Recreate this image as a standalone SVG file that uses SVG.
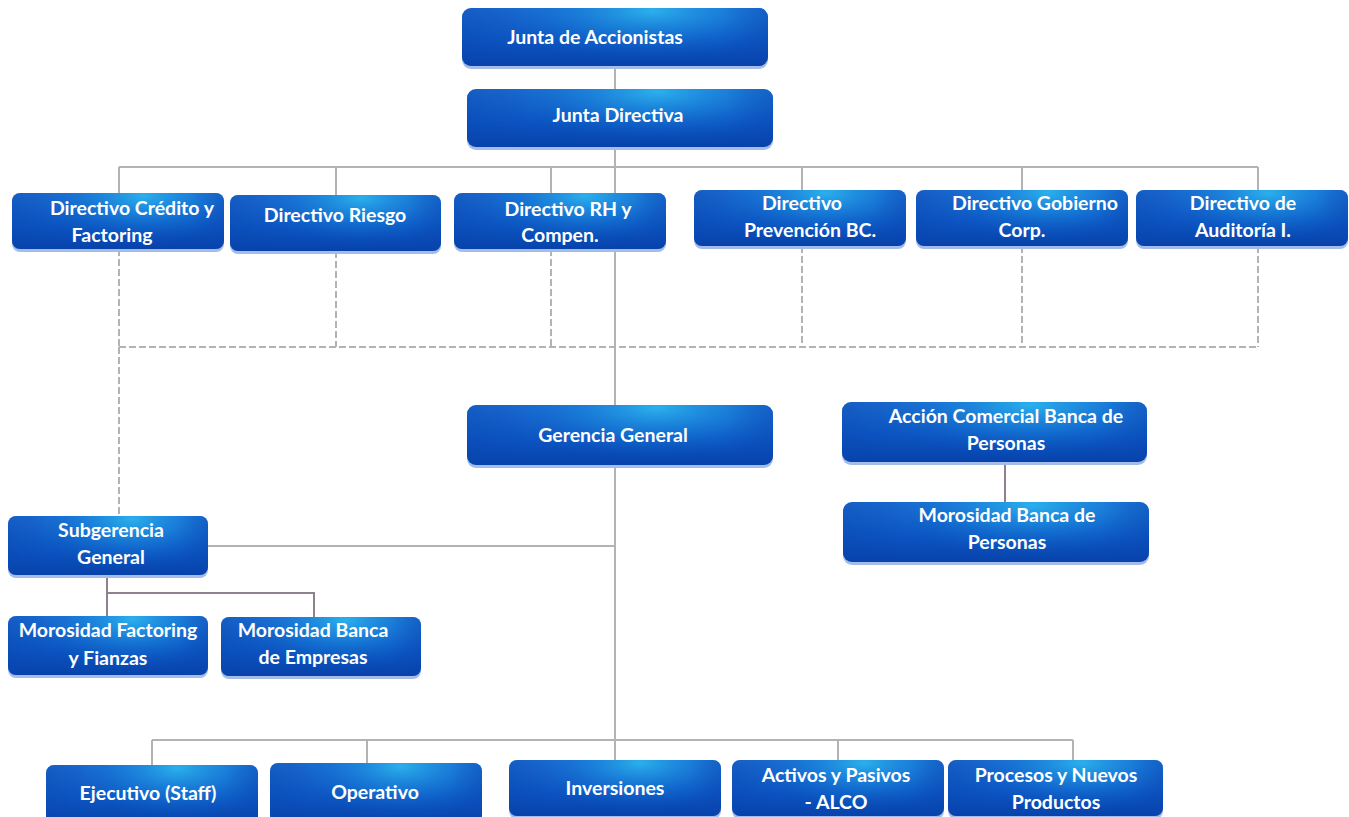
<svg xmlns="http://www.w3.org/2000/svg" width="1349" height="817" viewBox="0 0 1349 817">
<defs>
<linearGradient id="base" x1="0" y1="0" x2="0" y2="1">
<stop offset="0" stop-color="#1b6bd0"/>
<stop offset="0.55" stop-color="#0c55c2"/>
<stop offset="1" stop-color="#0742ab"/>
</linearGradient>
<radialGradient id="glow" cx="0.62" cy="0.05" r="0.55" gradientTransform="translate(0.62 0.05) scale(1 1.6) translate(-0.62 -0.05)">
<stop offset="0" stop-color="#2cb4ee" stop-opacity="0.95"/>
<stop offset="0.5" stop-color="#1a8ce0" stop-opacity="0.45"/>
<stop offset="1" stop-color="#0c55c2" stop-opacity="0"/>
</radialGradient>
<linearGradient id="side" x1="0" y1="0" x2="1" y2="0">
<stop offset="0" stop-color="#0a44ad" stop-opacity="0.35"/>
<stop offset="0.2" stop-color="#0a44ad" stop-opacity="0"/>
<stop offset="0.85" stop-color="#0a44ad" stop-opacity="0"/>
<stop offset="1" stop-color="#0a44ad" stop-opacity="0.3"/>
</linearGradient>
</defs>
<style>
.sh{fill:#a6bce8}
.b{fill:url(#base)}
.g{fill:url(#glow)}
.s{fill:url(#side)}
text{font-family:Lato,"Open Sans","Liberation Sans",sans-serif;font-weight:bold;font-size:19.5px;fill:#ffffff;text-anchor:middle}
.c{stroke:#b3b3b3;stroke-width:2;fill:none}
.d{stroke:#b3b3b3;stroke-width:2;fill:none;stroke-dasharray:7 3}
.p{stroke:#8f8090;stroke-width:2;fill:none}
</style>
<rect width="1349" height="817" fill="#ffffff"/>

<g id="connectors">
<path class="c" d="M615 66V89M615 147V405M119 167H1258M119 167V193M336 167V195M551 167V193M802 167V190M1022 167V190M1258 167V190"/>
<path class="d" d="M119 249V347M336 251V347M551 249V347M802 246V347M1022 246V347M1258 246V347M119 347H1258M119 347V516"/>
<path class="c" d="M615 465V740M208 546H615M152 740H1073M152 740V765M367 740V763M615 740V760M838 740V760M1073 740V760"/>
<path class="p" d="M107 575V616M107 593H314V617M1005 462V502"/>
</g>

<g id="n-junta-accionistas">
<rect class="sh" x="462" y="11" width="306" height="58" rx="9"/>
<rect class="b" x="462" y="8" width="306" height="58" rx="9"/>
<rect class="g" x="462" y="8" width="306" height="58" rx="9"/>
<rect class="s" x="462" y="8" width="306" height="58" rx="9"/>
<text x="595" y="44">Junta de Accionistas</text>
</g>
<g id="n-junta-directiva">
<rect class="sh" x="467" y="92" width="306" height="58" rx="9"/>
<rect class="b" x="467" y="89" width="306" height="58" rx="9"/>
<rect class="g" x="467" y="89" width="306" height="58" rx="9"/>
<rect class="s" x="467" y="89" width="306" height="58" rx="9"/>
<text x="618" y="122">Junta Directiva</text>
</g>
<g id="n-credito">
<rect class="sh" x="12" y="196" width="212" height="56" rx="8"/>
<rect class="b" x="12" y="193" width="212" height="56" rx="8"/>
<rect class="g" x="12" y="193" width="212" height="56" rx="8"/>
<rect class="s" x="12" y="193" width="212" height="56" rx="8"/>
<text x="132" y="215">Directivo Crédito y</text>
<text x="112" y="242">Factoring</text>
</g>
<g id="n-riesgo">
<rect class="sh" x="230" y="198" width="211" height="56" rx="8"/>
<rect class="b" x="230" y="195" width="211" height="56" rx="8"/>
<rect class="g" x="230" y="195" width="211" height="56" rx="8"/>
<rect class="s" x="230" y="195" width="211" height="56" rx="8"/>
<text x="335" y="222">Directivo Riesgo</text>
</g>
<g id="n-rh">
<rect class="sh" x="454" y="196" width="212" height="56" rx="8"/>
<rect class="b" x="454" y="193" width="212" height="56" rx="8"/>
<rect class="g" x="454" y="193" width="212" height="56" rx="8"/>
<rect class="s" x="454" y="193" width="212" height="56" rx="8"/>
<text x="568" y="216">Directivo RH y</text>
<text x="560" y="242">Compen.</text>
</g>
<g id="n-prevencion">
<rect class="sh" x="694" y="193" width="212" height="56" rx="8"/>
<rect class="b" x="694" y="190" width="212" height="56" rx="8"/>
<rect class="g" x="694" y="190" width="212" height="56" rx="8"/>
<rect class="s" x="694" y="190" width="212" height="56" rx="8"/>
<text x="802" y="210">Directivo</text>
<text x="810" y="237">Prevención BC.</text>
</g>
<g id="n-gobierno">
<rect class="sh" x="916" y="193" width="212" height="56" rx="8"/>
<rect class="b" x="916" y="190" width="212" height="56" rx="8"/>
<rect class="g" x="916" y="190" width="212" height="56" rx="8"/>
<rect class="s" x="916" y="190" width="212" height="56" rx="8"/>
<text x="1035" y="210">Directivo Gobierno</text>
<text x="1022" y="237">Corp.</text>
</g>
<g id="n-auditoria">
<rect class="sh" x="1136" y="193" width="212" height="56" rx="8"/>
<rect class="b" x="1136" y="190" width="212" height="56" rx="8"/>
<rect class="g" x="1136" y="190" width="212" height="56" rx="8"/>
<rect class="s" x="1136" y="190" width="212" height="56" rx="8"/>
<text x="1243" y="210">Directivo de</text>
<text x="1243" y="237">Auditoría I.</text>
</g>
<g id="n-gerencia">
<rect class="sh" x="467" y="408" width="306" height="60" rx="9"/>
<rect class="b" x="467" y="405" width="306" height="60" rx="9"/>
<rect class="g" x="467" y="405" width="306" height="60" rx="9"/>
<rect class="s" x="467" y="405" width="306" height="60" rx="9"/>
<text x="613" y="442">Gerencia General</text>
</g>
<g id="n-accion-comercial">
<rect class="sh" x="842" y="405" width="305" height="60" rx="9"/>
<rect class="b" x="842" y="402" width="305" height="60" rx="9"/>
<rect class="g" x="842" y="402" width="305" height="60" rx="9"/>
<rect class="s" x="842" y="402" width="305" height="60" rx="9"/>
<text x="1006" y="423">Acción Comercial Banca de</text>
<text x="1006" y="450">Personas</text>
</g>
<g id="n-morosidad-personas">
<rect class="sh" x="843" y="505" width="306" height="60" rx="9"/>
<rect class="b" x="843" y="502" width="306" height="60" rx="9"/>
<rect class="g" x="843" y="502" width="306" height="60" rx="9"/>
<rect class="s" x="843" y="502" width="306" height="60" rx="9"/>
<text x="1007" y="522">Morosidad Banca de</text>
<text x="1007" y="549">Personas</text>
</g>
<g id="n-subgerencia">
<rect class="sh" x="8" y="519" width="200" height="59" rx="8"/>
<rect class="b" x="8" y="516" width="200" height="59" rx="8"/>
<rect class="g" x="8" y="516" width="200" height="59" rx="8"/>
<rect class="s" x="8" y="516" width="200" height="59" rx="8"/>
<text x="111" y="537">Subgerencia</text>
<text x="111" y="564">General</text>
</g>
<g id="n-morosidad-factoring">
<rect class="sh" x="8" y="619" width="200" height="59" rx="8"/>
<rect class="b" x="8" y="616" width="200" height="59" rx="8"/>
<rect class="g" x="8" y="616" width="200" height="59" rx="8"/>
<rect class="s" x="8" y="616" width="200" height="59" rx="8"/>
<text x="108" y="637">Morosidad Factoring</text>
<text x="108" y="665">y Fianzas</text>
</g>
<g id="n-morosidad-empresas">
<rect class="sh" x="221" y="620" width="200" height="59" rx="8"/>
<rect class="b" x="221" y="617" width="200" height="59" rx="8"/>
<rect class="g" x="221" y="617" width="200" height="59" rx="8"/>
<rect class="s" x="221" y="617" width="200" height="59" rx="8"/>
<text x="313" y="637">Morosidad Banca</text>
<text x="313" y="664">de Empresas</text>
</g>
<g id="n-ejecutivo">
<rect class="b" x="46" y="765" width="212" height="60" rx="8"/>
<rect class="g" x="46" y="765" width="212" height="60" rx="8"/>
<rect class="s" x="46" y="765" width="212" height="60" rx="8"/>
<text x="148" y="800">Ejecutivo (Staff)</text>
</g>
<g id="n-operativo">
<rect class="b" x="270" y="763" width="212" height="60" rx="8"/>
<rect class="g" x="270" y="763" width="212" height="60" rx="8"/>
<rect class="s" x="270" y="763" width="212" height="60" rx="8"/>
<text x="375" y="799">Operativo</text>
</g>
<g id="n-inversiones">
<rect class="sh" x="509" y="763" width="212" height="56" rx="8"/>
<rect class="b" x="509" y="760" width="212" height="56" rx="8"/>
<rect class="g" x="509" y="760" width="212" height="56" rx="8"/>
<rect class="s" x="509" y="760" width="212" height="56" rx="8"/>
<text x="615" y="795">Inversiones</text>
</g>
<g id="n-alco">
<rect class="sh" x="732" y="763" width="212" height="56" rx="8"/>
<rect class="b" x="732" y="760" width="212" height="56" rx="8"/>
<rect class="g" x="732" y="760" width="212" height="56" rx="8"/>
<rect class="s" x="732" y="760" width="212" height="56" rx="8"/>
<text x="836" y="782">Activos y Pasivos</text>
<text x="836" y="809">- ALCO</text>
</g>
<g id="n-procesos">
<rect class="sh" x="948" y="763" width="215" height="56" rx="8"/>
<rect class="b" x="948" y="760" width="215" height="56" rx="8"/>
<rect class="g" x="948" y="760" width="215" height="56" rx="8"/>
<rect class="s" x="948" y="760" width="215" height="56" rx="8"/>
<text x="1056" y="782">Procesos y Nuevos</text>
<text x="1056" y="809">Productos</text>
</g>
</svg>
